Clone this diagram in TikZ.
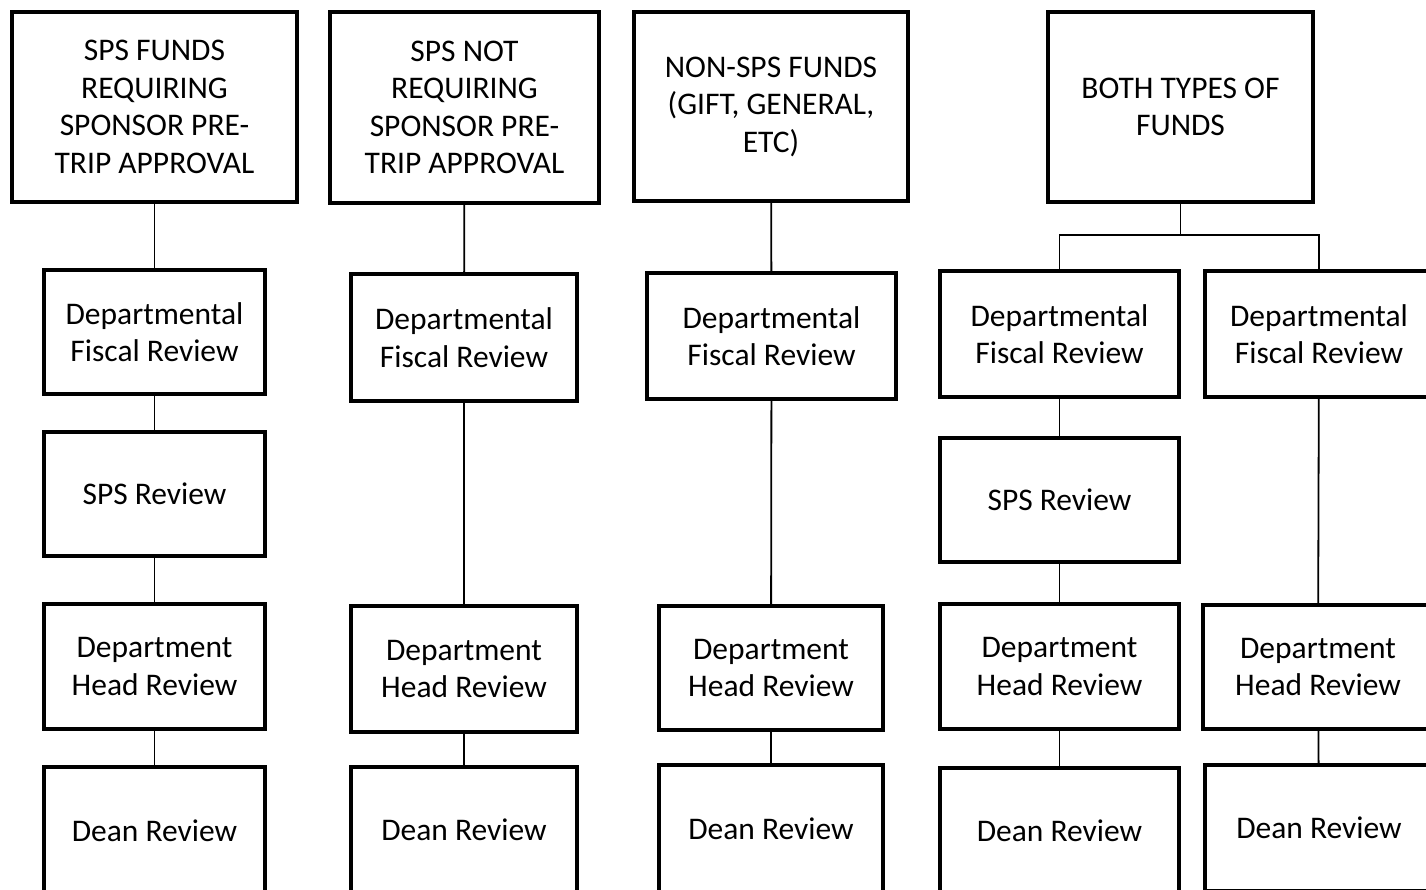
\documentclass[tikz,border=0pt]{standalone}
\usepackage{fontspec}
\setmainfont{Carlito}
\begin{document}
\begin{tikzpicture}[x=1pt,y=-1pt,
  box/.style={draw=black, line width=4pt, align=center, inner sep=0pt,
    font=\fontsize{31.5}{37.5}\selectfont},
  conn/.style={draw=black, line width=1.8pt}]
\clip (0,0) rectangle (1426,890);
\useasboundingbox (0,0) rectangle (1426,890);
% column 1
\node[box, minimum width=285pt, minimum height=190pt] (t1) at (154.5,107) {SPS FUNDS\\REQUIRING\\SPONSOR PRE-\\TRIP APPROVAL};
\node[box, minimum width=221pt, minimum height=124pt] (f1) at (154.5,332) {Departmental\\Fiscal Review};
\node[box, minimum width=221pt, minimum height=124pt] (s1) at (154.5,494) {SPS Review};
\node[box, minimum width=221pt, minimum height=125pt] (h1) at (154.5,666.5) {Department\\Head Review};
\node[box, minimum width=221pt, minimum height=128pt] (d1) at (154.5,831) {Dean Review};
% column 2
\node[box, minimum width=269pt, minimum height=191pt] (t2) at (464.5,107.5) {SPS NOT\\REQUIRING\\SPONSOR PRE-\\TRIP APPROVAL};
\node[box, minimum width=226pt, minimum height=127pt] (f2) at (464,337.5) {Departmental\\Fiscal Review};
\node[box, minimum width=226pt, minimum height=126pt] (h2) at (464,669) {Department\\Head Review};
\node[box, minimum width=226pt, minimum height=126pt] (d2) at (464,830) {Dean Review};
% column 3
\node[box, minimum width=274pt, minimum height=189pt] (t3) at (771,106.5) {NON-SPS FUNDS\\(GIFT, GENERAL,\\ETC)};
\node[box, minimum width=249pt, minimum height=126pt] (f3) at (771.5,336) {Departmental\\Fiscal Review};
\node[box, minimum width=224pt, minimum height=124pt] (h3) at (771,668) {Department\\Head Review};
\node[box, minimum width=224pt, minimum height=128pt] (d3) at (771,829) {Dean Review};
% column 4
\node[box, minimum width=265pt, minimum height=190pt] (t4) at (1180.5,107) {BOTH TYPES OF\\FUNDS};
\node[box, minimum width=239pt, minimum height=126pt] (f4) at (1059.5,334) {Departmental\\Fiscal Review};
\node[box, minimum width=239pt, minimum height=124pt] (s4) at (1059.5,500) {SPS Review};
\node[box, minimum width=239pt, minimum height=125pt] (h4) at (1059.5,666.5) {Department\\Head Review};
\node[box, minimum width=239pt, minimum height=126pt] (d4) at (1059.5,831) {Dean Review};
% column 5
\node[box, minimum width=228pt, minimum height=126pt] (f5) at (1319,334) {Departmental\\Fiscal Review};
\node[box, minimum width=230pt, minimum height=124pt] (h5) at (1318,667) {Department\\Head Review};
\node[box, minimum width=228pt, minimum height=126pt] (d5) at (1319,828) {Dean Review};
% connectors
\draw[conn] (t1) -- (f1);
\draw[conn] (f1) -- (s1);
\draw[conn] (s1) -- (h1);
\draw[conn] (h1) -- (d1);
\draw[conn] (t2) -- (f2);
\draw[conn] (f2) -- (h2);
\draw[conn] (h2) -- (d2);
\draw[conn] (t3) -- (f3);
\draw[conn] (f3) -- (h3);
\draw[conn] (h3) -- (d3);
\coordinate (j) at (1181,235);
\draw[conn] (t4.south) -- (t4.south |- j);
\draw[conn] (f4.north) |- (f5.north |- j) -- (f5.north);
\draw[conn] (f4) -- (s4);
\draw[conn] (s4) -- (h4);
\draw[conn] (h4) -- (d4);
\draw[conn] (f5) -- (h5);
\draw[conn] (h5) -- (d5);
\end{tikzpicture}
\end{document}
